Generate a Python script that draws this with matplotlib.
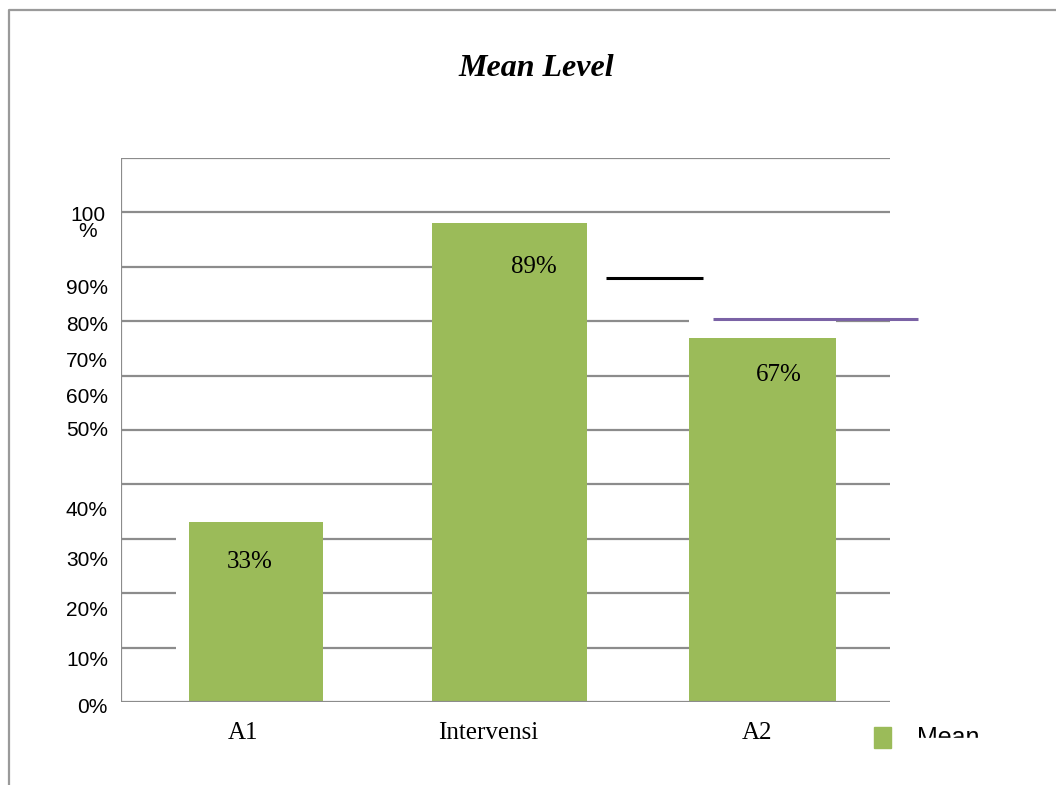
import matplotlib.pyplot as plt
from matplotlib.lines import Line2D
from matplotlib.patches import Rectangle
import matplotlib.transforms as mtransforms

# data
categories = ["A1", "Intervensi", "A2"]
mean_values = [33, 88, 67]
bar_labels = ["33%", "89%", "67%"]
ytick_labels = ["100\n%", "90%", "80%", "70%", "60%", "50%",
                "40%", "30%", "20%", "10%", "0%"]
grid_levels = [0, 10, 20, 30, 40, 50, 60, 70, 80, 90, 100]

W, H = 1056, 785
GREEN = "#9bbb59"
GRID = "#8c8c8c"


def fx(x):
    return x / W


def fy(y):
    return 1 - y / H


fig = plt.figure(figsize=(W / 100, H / 100), dpi=100)

# outer chart border (cut off at right and bottom)
fig.add_artist(Line2D([fx(9), fx(9), fx(W)], [fy(H), fy(10), fy(10)],
                      color="#9a9a9a", lw=1.6))

fig.text(fx(536), fy(69), "Mean Level", ha="center", va="center",
         fontsize=23, fontweight="bold", fontstyle="italic",
         family="Liberation Serif")

# plot area, x in pixel-like units so the uneven bars can be placed
ax = fig.add_axes([fx(121), fy(702), fx(890) - fx(121), (702 - 158) / H])
ax.set_xlim(121, 890)
ax.set_ylim(0, 100)
ax.axis("off")

bar_x = [256, 509.5, 762.5]
bar_w = [134, 155, 147]
ax.bar(bar_x, mean_values, width=bar_w, color=GREEN, zorder=3)

# gridlines, some broken like in the original
segments = {
    0: [(121, 890, 4)],
    10: [(121, 176, 1), (189, 890, 1)],
    20: [(121, 176, 1), (189, 890, 1)],
    30: [(121, 176, 1), (189, 890, 1)],
    40: [(121, 890, 1)],
    50: [(121, 890, 1)],
    60: [(121, 890, 1)],
    70: [(121, 689, 1), (836, 890, 1)],
    80: [(121, 500, 1)],
    90: [(121, 890, 1)],
    100: [(121, 890, 1)],
}
for lvl in grid_levels:
    for x0, x1, z in segments[lvl]:
        ax.hlines(lvl, x0, x1, color=GRID, lw=1.6, zorder=z)
ax.vlines(121, 0, 100, color=GRID, lw=1.6, zorder=4)

# stray lines
ax.hlines(77.9, 606, 703, color="black", lw=2.2, zorder=5)
ax.hlines(70.4, 713, 918, color="#7a62a5", lw=2.2, zorder=5, clip_on=False)

# bar value labels
lab_x = [250, 533.5, 779]
lab_y = [25.8, 80.0, 60.2]
for x, y, t in zip(lab_x, lab_y, bar_labels):
    ax.text(x, y, t, ha="center", va="center", fontsize=18,
            family="Liberation Serif", zorder=6)

# y labels, misplaced like the source
trans = mtransforms.blended_transform_factory(fig.transFigure, ax.transData)
ytick_pos = [87.9, 76.1, 69.3, 62.6, 55.9, 50.0, 35.2, 26.1, 16.9, 7.7, -1.1]
for t, y in zip(ytick_labels, ytick_pos):
    if "\n" in t:
        ax.text(fx(88), y, t, ha="center", va="center", fontsize=15,
                family="Liberation Sans", transform=trans,
                linespacing=0.8, clip_on=False)
    else:
        ax.text(fx(108), y, t, ha="right", va="center", fontsize=15,
                family="Liberation Sans", transform=trans, clip_on=False)

# category labels
cat_x = [243, 488.5, 757]
for x, c in zip(cat_x, categories):
    fig.text(fx(x), fy(733), c, ha="center", va="center", fontsize=18,
             family="Liberation Serif")

# legend, text cut off at the bottom
fig.add_artist(Rectangle((fx(874), fy(748)), fx(891) - fx(874),
                         (748 - 727) / H, color=GREEN))
fig.text(fx(917), fy(726), "Mean", ha="left", va="top", fontsize=18,
         family="Liberation Sans")
fig.add_artist(Rectangle((fx(900), fy(770)), fx(1056) - fx(900),
                         (770 - 738) / H, color="white", zorder=10))

fig.savefig("out.png", dpi=100)
